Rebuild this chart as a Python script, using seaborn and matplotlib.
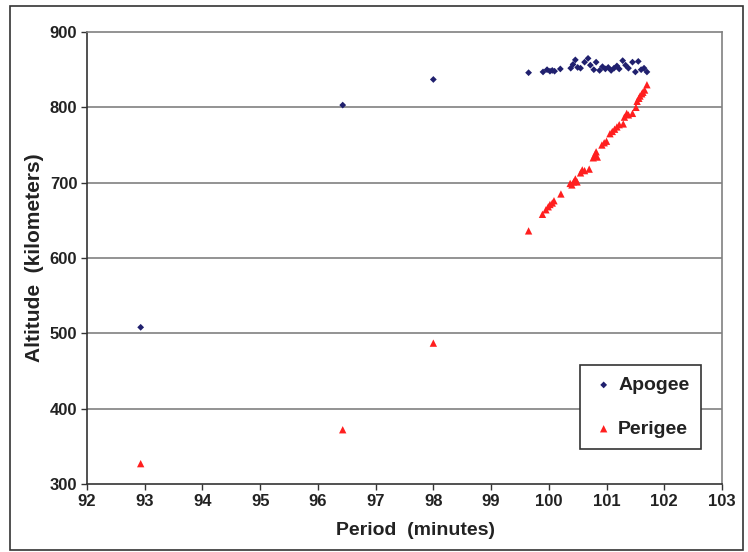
import matplotlib.pyplot as plt
import matplotlib.patches as mpatches
import seaborn as sns
import pandas as pd

# Apogee points (period in minutes, altitude in km)
apogee_period = [92.93, 96.43, 98.0, 99.65, 99.9, 99.97, 100.02, 100.06, 100.1, 100.2,
                 100.38, 100.42, 100.46, 100.5, 100.55, 100.62, 100.68, 100.72, 100.78,
                 100.82, 100.88, 100.93, 100.98, 101.03, 101.08, 101.13, 101.18, 101.22,
                 101.28, 101.33, 101.38, 101.45, 101.5, 101.55, 101.6, 101.65, 101.7]
apogee_alt = [508, 803, 837, 846, 847, 850, 848, 849, 848, 851,
              852, 857, 863, 853, 852, 860, 865, 856, 850,
              860, 849, 854, 851, 853, 849, 852, 855, 851,
              862, 856, 852, 860, 847, 861, 850, 852, 847]

# Perigee points
perigee_period = [92.93, 96.43, 98.0, 99.65, 99.89, 99.95, 99.99, 100.02, 100.06, 100.09,
                  100.21, 100.37, 100.4, 100.43, 100.46, 100.49, 100.55, 100.58, 100.62,
                  100.7, 100.77, 100.8, 100.82, 100.84, 100.92, 100.96, 101.0, 101.06,
                  101.1, 101.14, 101.18, 101.22, 101.29, 101.31, 101.35, 101.38, 101.45,
                  101.51, 101.53, 101.56, 101.58, 101.61, 101.63, 101.66, 101.7]
perigee_alt = [327, 372, 487, 636, 658, 664, 668, 671, 673, 676,
               685, 699, 697, 701, 705, 701, 713, 717, 716,
               718, 733, 737, 741, 734, 750, 753, 755, 765,
               768, 771, 774, 777, 778, 787, 792, 790, 792,
               800, 808, 812, 815, 818, 820, 823, 830]

apo = pd.DataFrame({"period": apogee_period, "alt": apogee_alt})
peri = pd.DataFrame({"period": perigee_period, "alt": perigee_alt})

sns.set_style("white")
plt.rcParams['font.family'] = ['Liberation Sans', 'DejaVu Sans']

fig = plt.figure(figsize=(7.48, 5.52), dpi=100)
ax = fig.add_axes([0.1163, 0.1232, 0.8489, 0.8188])

# grid lines
for yv in range(400, 900, 100):
    ax.axhline(yv, color="#808080", linewidth=1.2, zorder=0)

sns.scatterplot(data=apo, x="period", y="alt", marker="D", s=12, color="#20206E",
                edgecolor="none", label="Apogee", ax=ax, zorder=3)
sns.scatterplot(data=peri, x="period", y="alt", marker="^", s=28, color="#FF1F1F",
                edgecolor="none", label="Perigee", ax=ax, zorder=3)

ax.set_xlim(92, 103)
ax.set_ylim(300, 900)
ax.set_xticks(range(92, 104))
ax.set_yticks(range(300, 1000, 100))
ax.tick_params(axis="both", direction="out", length=4, width=1, color="#333333",
               labelsize=12, pad=3, bottom=True, left=True)
for lab in ax.get_xticklabels() + ax.get_yticklabels():
    lab.set_fontweight("bold")
    lab.set_color("#222222")

ax.set_xlabel("Period  (minutes)", fontsize=14, fontweight="bold", color="#222222", labelpad=13)
ax.xaxis.set_label_coords(0.518, -0.085)
ax.set_ylabel("Altitude  (kilometers)", fontsize=15, fontweight="bold", color="#222222", labelpad=4)

ax.spines["left"].set_color("#333333")
ax.spines["bottom"].set_color("#333333")
ax.spines["top"].set_color("#808080")
ax.spines["right"].set_color("#808080")
for s in ax.spines.values():
    s.set_linewidth(1.2)

leg = ax.legend(loc="upper left", bbox_to_anchor=(0.776, 0.263), borderaxespad=0,
                frameon=True, fancybox=False, edgecolor="#333333",
                prop={"weight": "bold", "size": 14}, markerscale=1.0,
                handletextpad=0.1, labelspacing=1.35, borderpad=0.58, handlelength=1.3)
leg.get_frame().set_linewidth(1.2)
leg.get_frame().set_alpha(1)
for t in leg.get_texts():
    t.set_color("#222222")

# outer frame around the whole chart
fig.patches.append(mpatches.Rectangle((0.013, 0.004), 0.98, 0.985, transform=fig.transFigure,
                                      fill=False, edgecolor="#333333", linewidth=1.2))

fig.savefig("out.png", dpi=100)
